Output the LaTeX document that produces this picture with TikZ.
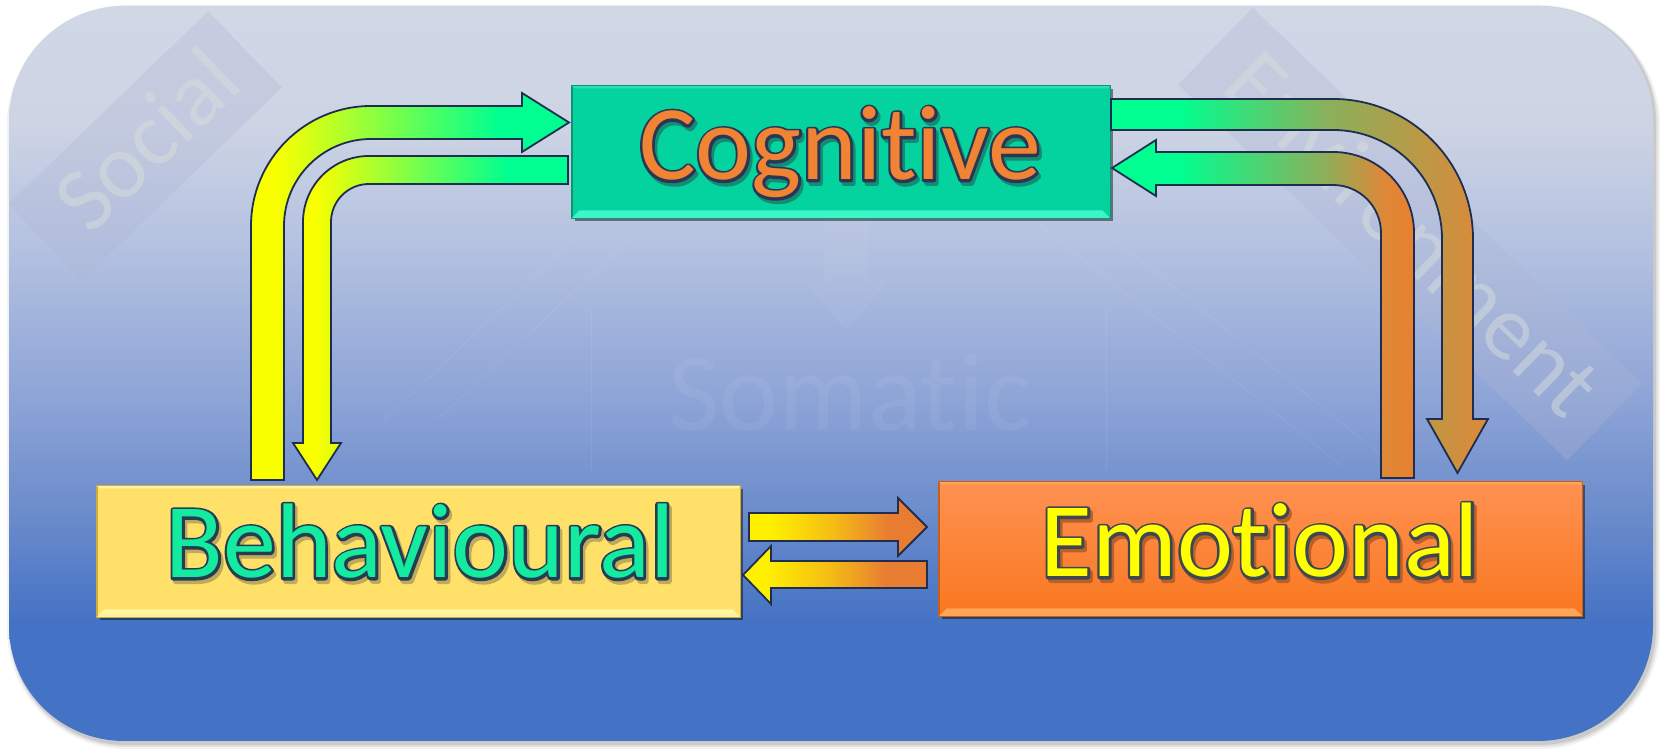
\documentclass[tikz,border=0pt]{standalone}
\usepackage{fontspec}
\setmainfont[Ligatures=NoCommon]{Carlito}
\usetikzlibrary{calc,shadows}

\definecolor{bg0}{RGB}{68,114,196}
\definecolor{bg1}{RGB}{105,138,203}
\definecolor{bg2}{RGB}{140,163,214}
\definecolor{bg3}{RGB}{178,192,224}
\definecolor{bg4}{RGB}{205,212,228}
\definecolor{bg5}{RGB}{208,215,229}
\definecolor{ylA}{RGB}{250,255,0}
\definecolor{grA}{RGB}{0,255,144}
\definecolor{tanA}{RGB}{140,175,90}
\definecolor{orA}{RGB}{222,136,56}
\definecolor{orB}{RGB}{232,128,46}
\definecolor{ymA}{RGB}{255,240,0}
\definecolor{ymB}{RGB}{245,190,20}
\definecolor{ymC}{RGB}{232,125,50}
\definecolor{arrline}{RGB}{31,45,80}
\definecolor{cogfill}{RGB}{5,211,159}
\definecolor{cogbev}{RGB}{60,245,200}
\definecolor{cogtop}{RGB}{40,225,180}
\definecolor{cogedge}{RGB}{10,150,110}
\definecolor{cogsh}{RGB}{20,140,115}
\definecolor{cogtxt}{RGB}{240,132,52}
\definecolor{behfill}{RGB}{255,225,105}
\definecolor{behbev}{RGB}{255,245,160}
\definecolor{behedge}{RGB}{210,170,60}
\definecolor{behsh}{RGB}{190,170,90}
\definecolor{behtxt}{RGB}{20,235,160}
\definecolor{emoT}{RGB}{255,145,82}
\definecolor{emoB}{RGB}{249,120,32}
\definecolor{emobev}{RGB}{255,165,85}
\definecolor{emoedge}{RGB}{200,95,20}
\definecolor{emosh}{RGB}{185,95,40}
\definecolor{emotxt}{RGB}{255,255,0}
\definecolor{wmfill}{RGB}{175,182,212}
\definecolor{wmtext}{RGB}{215,222,220}

\pgfdeclareverticalshading{bgshade}{100bp}{color(0bp)=(bg0); color(33bp)=(bg0); color(40bp)=(bg1); color(48bp)=(bg2); color(58bp)=(bg3); color(67bp)=(bg4); color(75bp)=(bg5); color(100bp)=(bg5)}
\pgfdeclarehorizontalshading{ygshade}{100bp}{color(0bp)=(ylA); color(29bp)=(ylA); color(64bp)=(grA); color(100bp)=(grA)}
\pgfdeclarehorizontalshading{goshadeC}{100bp}{color(0bp)=(grA); color(34bp)=(grA); color(54bp)=(tanA); color(75bp)=(orA); color(100bp)=(orA)}
\pgfdeclarehorizontalshading{goshadeD}{100bp}{color(0bp)=(grA); color(36bp)=(grA); color(60bp)=(tanA); color(70bp)=(orA); color(75bp)=(orB); color(100bp)=(orB)}
\pgfdeclarehorizontalshading{yoshade}{100bp}{color(0bp)=(ymA); color(31bp)=(ymA); color(48bp)=(ymB); color(64bp)=(ymC); color(100bp)=(ymC)}

\newcommand\mybigfont{\fontsize{106}{110}\selectfont}
% fill colour #1, outline rgb #2, shadow colour #3, text #4
\newcommand\olt[4]{%
 \rlap{\kern2.5pt\raisebox{-3.5pt}{\textcolor{#3}{\special{pdf:literal direct q 2 Tr 5 w 1 j}#4\special{pdf:literal direct Q}}}}%
 \rlap{\textcolor{#1}{\special{pdf:literal direct q 1 Tr 5 w 1 j #2 RG}#4\special{pdf:literal direct Q}}}%
 \textcolor{#1}{#4}}

\tikzset{
  blockarrow/.style={draw=arrline, line width=1.8pt, line join=miter},
  boxbase/.style={inner sep=0pt, line width=1pt,
    drop shadow={shadow xshift=2.5pt, shadow yshift=-3pt, opacity=0.45, fill=black}},
  label/.style={anchor=base, font=\mybigfont, inner sep=0pt},
  watermark/.style={inner sep=0pt, fill=wmfill, fill opacity=0.3},
  wmlabel/.style={inner sep=0pt, text=wmtext, text opacity=0.5},
  faint/.style={draw=white, draw opacity=0.08, line width=0.8pt}
}

\begin{document}
\begin{tikzpicture}[x=1pt,y=1pt]
\useasboundingbox (0,0) rectangle (1662,754);

% outer drop shadow
\fill[black, opacity=0.05, rounded corners=120] (7,5) rectangle (1660,749);
\fill[black, opacity=0.07, rounded corners=118] (9,7) rectangle (1658,748);
\fill[black, opacity=0.10, rounded corners=116] (10,9) rectangle (1656,748);

% background panel
\path[shading=bgshade, rounded corners=115] (9,13) rectangle (1653,748);

% faint watermarks
\begin{scope}
\clip[rounded corners=115] (9,13) rectangle (1653,748);
\node[watermark, rotate=44, minimum width=278, minimum height=106] (socbox) at (145,608) {};
\node[wmlabel, rotate=44, font=\fontsize{92}{96}\selectfont] (social) at (146,615) {Social};
\node[watermark, rotate=-44, minimum width=541, minimum height=107] (envbox) at (1410,520) {};
\node[wmlabel, rotate=-44, font=\fontsize{92}{96}\selectfont] (environment) at (1414,521) {Environment};
% faint somatic graphic
\draw[faint] (587,527) -- (377,327);
\draw[faint] (643,527) -- (437,334);
\draw[faint] (1040,529) -- (1343,287);
\draw[faint] (1097,529) -- (1380,300);
\draw[faint] (591,444) -- (591,284);
\draw[faint] (1106,444) -- (1106,284);
\path[fill=white, fill opacity=0.03, draw=white, draw opacity=0.08, line width=0.6pt]
  (825,534) -- (825,472) -- (806,472) -- (846,426) -- (887,472) -- (867,472) -- (867,534) -- cycle;
\node[inner sep=0pt, text=white, text opacity=0.06, font=\fontsize{112}{116}\selectfont] (somatic) at (850,362) {Somatic};
\end{scope}

% boxes
\node[boxbase, draw=cogedge, fill=cogfill, minimum width=538, minimum height=132] (cog) at (841,602) {};
\fill[cogbev] (cog.south west) -- (cog.south east) -- ++(-8,8) -- ($(cog.south west)+(8,8)$) -- cycle;
\fill[cogtop] (cog.north west) -- (cog.north east) -- ++(-3,-3) -- ($(cog.north west)+(3,-3)$) -- cycle;
\draw[cogedge, line width=1pt] (cog.south west) rectangle (cog.north east);

\node[boxbase, draw=behedge, fill=behfill, minimum width=643, minimum height=131] (beh) at (418.5,202.5) {};
\fill[behbev] (beh.south west) -- (beh.south east) -- ++(-8,8) -- ($(beh.south west)+(8,8)$) -- cycle;
\fill[behbev] (beh.north west) -- (beh.north east) -- ++(-3,-3) -- ($(beh.north west)+(3,-3)$) -- cycle;
\draw[behedge, line width=1pt] (beh.south west) rectangle (beh.north east);

\node[boxbase, draw=emoedge, top color=emoT, bottom color=emoB, minimum width=643, minimum height=134] (emo) at (1260.5,205) {};
\fill[emobev] (emo.south west) -- (emo.south east) -- ++(-8,8) -- ($(emo.south west)+(8,8)$) -- cycle;
\fill[emobev] (emo.north west) -- (emo.north east) -- ++(-3,-3) -- ($(emo.north west)+(3,-3)$) -- cycle;
\draw[emoedge, line width=1pt] (emo.south west) rectangle (emo.north east);

% block arrows
% A: Behavioural -> Cognitive (outer, top-left)
\path[blockarrow, shading=ygshade]
  (251,274) -- (251,528) arc[start angle=180, end angle=90, radius=120]
  -- (522,648) -- (522,661) -- (569,631.5) -- (522,602) -- (522,615) -- (371,615)
  arc[start angle=90, end angle=180, radius=87] -- (284,274) -- cycle;
% B: Cognitive -> Behavioural (inner, top-left)
\path[blockarrow, shading=ygshade]
  (568,598) -- (369,598) arc[start angle=90, end angle=180, radius=66]
  -- (303,311) -- (293,311) -- (317,274) -- (341,311) -- (331,311) -- (331,532)
  arc[start angle=180, end angle=90, radius=38] -- (568,570) -- cycle;
% C: Cognitive -> Emotional (outer, top-right)
\path[blockarrow, shading=goshadeC]
  (1111,655) -- (1333,655) arc[start angle=90, end angle=0, radius=140]
  -- (1473,335) -- (1488,335) -- (1457.5,281) -- (1427,335) -- (1442,335) -- (1442,515)
  arc[start angle=0, end angle=90, radius=109] -- (1111,624) -- cycle;
% D: Emotional -> Cognitive (inner, top-right)
\path[blockarrow, shading=goshadeD]
  (1381,276) -- (1381,521) arc[start angle=0, end angle=90, radius=48]
  -- (1156,569) -- (1156,558) -- (1112,586) -- (1156,614) -- (1156,602) -- (1333,602)
  arc[start angle=90, end angle=0, radius=81] -- (1414,276) -- cycle;
% E: Behavioural -> Emotional
\path[blockarrow, shading=yoshade]
  (749,241) -- (898,241) -- (898,256) -- (927,227) -- (898,198) -- (898,213) -- (749,213) -- cycle;
% F: Emotional -> Behavioural
\path[blockarrow, shading=yoshade]
  (927,193) -- (771,193) -- (771,208) -- (743,179) -- (771,150) -- (771,166) -- (927,166) -- cycle;

% labels
\node[label] (cogt) at (840,574) {\olt{cogtxt}{0.17 0.21 0.33}{cogsh}{Cognitive}};
\node[label] (beht) at (420,176) {\olt{behtxt}{0.14 0.24 0.32}{behsh}{Behavioural}};
\node[label] (emot) at (1260,177) {\olt{emotxt}{0.24 0.28 0.32}{emosh}{Emotional}};
\end{tikzpicture}
\end{document}
